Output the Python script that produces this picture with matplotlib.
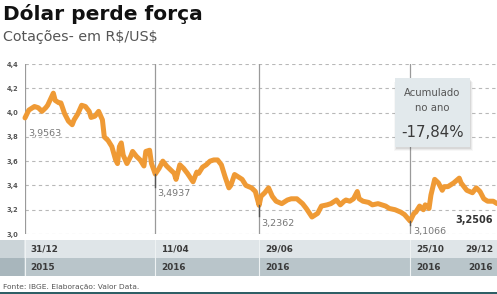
import matplotlib
matplotlib.use("Agg")
import matplotlib.pyplot as plt
from matplotlib.patches import Rectangle
from matplotlib.transforms import blended_transform_factory

# ---- data (trading-day index, R$/US$) ----
days = [0, 2, 4, 5, 7, 9, 11, 12, 15, 16, 18, 19, 21, 23, 25, 26, 28, 30, 32, 34,
        35, 37, 39, 41, 42, 44, 46, 48, 49, 50, 51, 52, 54, 56, 57, 59, 61, 63, 64, 66,
        67, 69, 71, 73, 75, 77, 79, 80, 82, 84, 86, 89, 91, 92, 94, 96, 98, 100, 102, 104,
        106, 108, 109, 111, 113, 115, 117, 120, 122, 124, 125, 127, 129, 131, 133, 136, 139, 141, 144, 147,
        149, 152, 155, 157, 160, 162, 165, 167, 169, 170, 172, 174, 176, 177, 179, 182, 184, 187, 191, 193,
        196, 199, 201, 204, 206, 207, 209, 211, 212, 214, 215, 217, 219, 221, 222, 224, 227, 230, 231, 234,
        237, 239, 241, 243, 245, 248, 250]
values = [3.9563, 4.02, 4.04, 4.05, 4.04, 4.01, 4.04, 4.06, 4.16, 4.10, 4.08, 4.08, 3.99, 3.93, 3.90, 3.94, 3.99, 4.06, 4.05, 4.01,
          3.96, 3.97, 4.01, 3.94, 3.80, 3.77, 3.72, 3.61, 3.58, 3.72, 3.75, 3.65, 3.58, 3.64, 3.68, 3.64, 3.61, 3.56, 3.68, 3.69,
          3.58, 3.4937, 3.54, 3.60, 3.56, 3.53, 3.50, 3.45, 3.57, 3.54, 3.50, 3.43, 3.51, 3.50, 3.55, 3.57, 3.60, 3.61, 3.61, 3.57,
          3.47, 3.38, 3.40, 3.49, 3.47, 3.45, 3.40, 3.38, 3.35, 3.2362, 3.31, 3.34, 3.38, 3.31, 3.27, 3.25, 3.28, 3.29, 3.29, 3.25,
          3.21, 3.14, 3.17, 3.23, 3.24, 3.25, 3.28, 3.24, 3.27, 3.28, 3.27, 3.29, 3.35, 3.29, 3.27, 3.26, 3.24, 3.25, 3.23, 3.21,
          3.20, 3.18, 3.16, 3.1066, 3.17, 3.18, 3.23, 3.20, 3.24, 3.21, 3.32, 3.45, 3.42, 3.36, 3.39, 3.39, 3.42, 3.46, 3.42, 3.36,
          3.34, 3.38, 3.35, 3.29, 3.27, 3.27, 3.2506]

mark_days = [0, 69, 124, 204]
mark_dates = ["31/12", "11/04", "29/06", "25/10"]
mark_years = ["2015", "2016", "2016", "2016"]
mark_values = ["3,9563", "3,4937", "3,2362", "3,1066"]
last_date, last_year, last_value = "29/12", "2016", "3,2506"
yticks = [3.0, 3.2, 3.4, 3.6, 3.8, 4.0, 4.2, 4.4]
ytick_labels = ["3,0", "3,2", "3,4", "3,6", "3,8", "4,0", "4,2", "4,4"]

W, H = 497, 294
fig = plt.figure(figsize=(W / 100, H / 100), dpi=100)
fig.patch.set_facecolor("white")

def fx(px):
    return px / W

def fy(py):
    return 1 - py / H

ax = fig.add_axes([fx(25), fy(234), fx(472), 170 / H])
ax.set_xlim(0, 250)
ax.set_ylim(3.0, 4.4)
for s in ax.spines.values():
    s.set_visible(False)
ax.set_xticks([])
ax.set_yticks(yticks)
ax.set_yticklabels(ytick_labels, fontsize=4.8, fontweight="bold", color="#555555")
ax.tick_params(axis="y", length=0, pad=5)
for yv in yticks:
    ax.axhline(yv, color="#b8b8b8", lw=0.8, ls=(0, (3, 3)), zorder=1)

for d in mark_days:
    ax.axvline(d, color="#9a9a9a", lw=0.9, zorder=1)

ax.plot(days, values, color="#ef9a35", lw=3.6, solid_joinstyle="round",
        solid_capstyle="round", zorder=3, clip_on=False)

lab_pos = [(1.5, 3.83), (70, 3.33), (125, 3.09), (205.5, 3.017)]
for d, (lx, ly), txt in zip(mark_days, lab_pos, mark_values):
    v = values[days.index(d)]
    if d != 0:
        ax.plot([d, d], [v, ly + 0.06], color="#555555", lw=1.0, zorder=4)
    ax.text(lx, ly, txt, fontsize=6.8, color="#777777", ha="left", va="center", zorder=5)
ax.text(248, 3.116, last_value, fontsize=7, fontweight="bold", color="#333333",
        ha="right", va="center", zorder=5)

# ---- bottom band (own axes, drawn after the chart) ----
bax = fig.add_axes([0, fy(276), 1, 36 / H])
bax.set_axis_off()
bax.set_xlim(0, 1)
bax.set_ylim(0, 1)
bax.add_patch(Rectangle((0, 0.5), 1, 0.5, facecolor="#dfe5e8", edgecolor="none"))
bax.add_patch(Rectangle((0, 0), 1, 0.5, facecolor="#b9c5ca", edgecolor="none"))
bax.add_patch(Rectangle((0, 0.5), fx(24), 0.5, facecolor="#cbd4d8", edgecolor="none"))
bax.add_patch(Rectangle((0, 0), fx(24), 0.5, facecolor="#a8b6bc", edgecolor="none"))
tr = blended_transform_factory(ax.transData, bax.transAxes)
for d in mark_days:
    bax.plot([d, d], [0, 1], transform=tr, color="#eef2f3", lw=0.8)
for d, dt, yr in zip(mark_days, mark_dates, mark_years):
    bax.text(d + 3, 0.75, dt, transform=tr, fontsize=6.4, fontweight="bold", color="#3a3a3a",
             ha="left", va="center")
    bax.text(d + 3, 0.25, yr, transform=tr, fontsize=6.4, fontweight="bold", color="#3a3a3a",
             ha="left", va="center")
bax.text(248, 0.75, last_date, transform=tr, fontsize=6.4, fontweight="bold", color="#3a3a3a",
         ha="right", va="center")
bax.text(248, 0.25, last_year, transform=tr, fontsize=6.4, fontweight="bold", color="#3a3a3a",
         ha="right", va="center")

# ---- annotation box ----
for i, a in enumerate([0.07, 0.05, 0.03]):
    fig.patches.append(Rectangle((fx(395 + 1 - i), fy(147 + 2 + i)), fx(75 + 2 * i), 69 / H,
                                 transform=fig.transFigure, facecolor="black", alpha=a,
                                 edgecolor="none", zorder=5))
fig.patches.append(Rectangle((fx(395), fy(147)), fx(75), 69 / H, transform=fig.transFigure,
                             facecolor="#e2e9ec", edgecolor="none", zorder=6))
fig.text(fx(432.5), fy(93), "Acumulado", fontsize=7.3, color="#555555", ha="center", va="center", zorder=7)
fig.text(fx(432.5), fy(108), "no ano", fontsize=7.3, color="#555555", ha="center", va="center", zorder=7)
fig.text(fx(432.5), fy(132), "-17,84%", fontsize=10.8, color="#3a3a3a", ha="center", va="center", zorder=7)

# ---- titles / footer ----
fig.text(fx(3), fy(14), "Dólar perde força", fontsize=14.5, fontweight="heavy", color="#111111",
         ha="left", va="center")
fig.text(fx(3), fy(37), r"Cotações- em R\$/US\$", fontsize=10.3, color="#555555", ha="left", va="center")
fig.text(fx(3), fy(287), "Fonte: IBGE. Elaboração: Valor Data.", fontsize=5.4, color="#555555",
         ha="left", va="center")
fig.patches.append(Rectangle((0, 0), 1, 2 / H, transform=fig.transFigure,
                             facecolor="#2f5f66", edgecolor="none"))

fig.savefig("out.png", dpi=100)
